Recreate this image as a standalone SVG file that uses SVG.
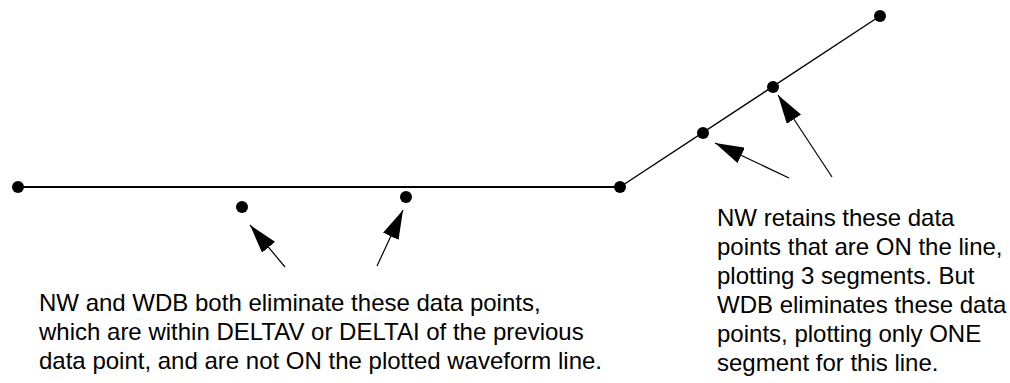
<svg xmlns="http://www.w3.org/2000/svg" width="1010" height="383" viewBox="0 0 1010 383">
<style>
.pt{fill:#000}
.wave{stroke:#000;fill:none}
.ar{stroke:#000;stroke-width:1.2;fill:none}
.lbl{font-family:"Liberation Sans",Arial,sans-serif;font-size:24px;fill:#000}
</style>
<defs>
<marker id="ah" viewBox="0 0 29 17" refX="29" refY="8.5" markerWidth="29" markerHeight="17" markerUnits="userSpaceOnUse" orient="auto">
<path d="M0,0 L29,8.5 L0,17 Z" fill="#000"/>
</marker>
</defs>
<rect width="1010" height="383" fill="#fff"/>
<g id="connectors">
<line class="wave" x1="18" y1="187" x2="620" y2="187" stroke-width="2"/>
<line class="wave" x1="620" y1="187" x2="880" y2="16" stroke-width="1.4"/>
<line class="ar" x1="285" y1="267" x2="250" y2="225" marker-end="url(#ah)"/>
<line class="ar" x1="377" y1="266" x2="403" y2="210" marker-end="url(#ah)"/>
<line class="ar" x1="789" y1="178" x2="715" y2="143" marker-end="url(#ah)"/>
<line class="ar" x1="832" y1="177" x2="778" y2="95" marker-end="url(#ah)"/>
</g>
<g id="p1"><circle class="pt" cx="18" cy="187" r="6"/></g>
<g id="p2"><circle class="pt" cx="242" cy="207" r="6"/></g>
<g id="p3"><circle class="pt" cx="406" cy="197" r="6"/></g>
<g id="p4"><circle class="pt" cx="620" cy="187" r="6"/></g>
<g id="p5"><circle class="pt" cx="703" cy="133" r="6"/></g>
<g id="p6"><circle class="pt" cx="773" cy="87" r="6"/></g>
<g id="p7"><circle class="pt" cx="880" cy="16" r="6"/></g>
<g id="note-left">
<text class="lbl" x="39" y="311">NW and WDB both eliminate these data points,</text>
<text class="lbl" x="39" y="340">which are within DELTAV or DELTAI of the previous</text>
<text class="lbl" x="39" y="369">data point, and are not ON the plotted waveform line.</text>
</g>
<g id="note-right">
<text class="lbl" x="717" y="226">NW retains these data</text>
<text class="lbl" x="717" y="255">points that are ON the line,</text>
<text class="lbl" x="717" y="284">plotting 3 segments. But</text>
<text class="lbl" x="717" y="313">WDB eliminates these data</text>
<text class="lbl" x="717" y="342">points, plotting only ONE</text>
<text class="lbl" x="717" y="371">segment for this line.</text>
</g>
</svg>
